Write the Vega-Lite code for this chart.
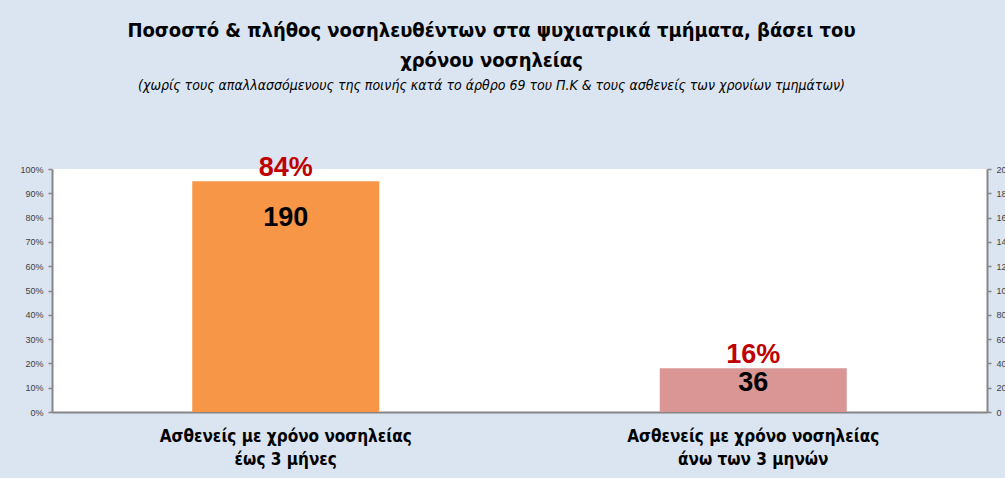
{
  "$schema": "https://vega.github.io/schema/vega-lite/v6.json",
  "autosize": {"type": "none"},
  "width": 935,
  "height": 243,
  "padding": {"left": 52, "top": 169, "right": 18, "bottom": 66},
  "background": "#dbe5f1",
  "title": {
    "text": ["Ποσοστό & πλήθος νοσηλευθέντων στα ψυχιατρικά τμήματα, βάσει του", "χρόνου νοσηλείας"],
    "subtitle": "(χωρίς τους απαλλασσόμενους της ποινής κατά το άρθρο 69 του Π.Κ & τους ασθενείς των χρονίων τμημάτων)",
    "anchor": "middle",
    "dx": -28,
    "offset": 61,
    "font": "DejaVu Sans Condensed",
    "fontSize": 20,
    "fontWeight": "bold",
    "color": "#000000",
    "lineHeight": 30,
    "subtitleFont": "DejaVu Sans Condensed",
    "subtitleFontSize": 14,
    "subtitleFontStyle": "italic",
    "subtitleColor": "#000000",
    "subtitlePadding": 8
  },
  "data": {
    "values": [
      {"category": "Ασθενείς με χρόνο νοσηλείας έως 3 μήνες", "count": 190, "pct": 0.84},
      {"category": "Ασθενείς με χρόνο νοσηλείας άνω των 3 μηνών", "count": 36, "pct": 0.16}
    ]
  },
  "config": {
    "view": {"fill": "#ffffff", "stroke": null},
    "axis": {
      "domainColor": "#868686",
      "domainWidth": 2,
      "tickColor": "#868686",
      "tickWidth": 1.5,
      "labelColor": "#404040",
      "labelFont": "Liberation Sans",
      "grid": false,
      "title": null
    }
  },
  "encoding": {
    "x": {
      "field": "category",
      "type": "nominal",
      "sort": null,
      "scale": {"paddingInner": 0.6, "paddingOuter": 0.3},
      "axis": {
        "ticks": false,
        "labelAngle": 0,
        "labelFont": "DejaVu Sans Condensed",
        "labelFontSize": 17,
        "labelFontWeight": "bold",
        "labelColor": "#000000",
        "labelLineHeight": 23,
        "labelPadding": 16,
        "labelLimit": 0,
        "labelExpr": "[slice(datum.value, 0, 27), slice(datum.value, 28)]"
      }
    }
  },
  "layer": [
    {
      "mark": {"type": "bar"},
      "encoding": {
        "y": {
          "field": "count",
          "type": "quantitative",
          "scale": {"domain": [0, 200]},
          "axis": {
            "orient": "right",
            "values": [0, 20, 40, 60, 80, 100, 120, 140, 160, 180, 200],
            "tickSize": 4,
            "labelFontSize": 9,
            "labelPadding": 5
          }
        },
        "color": {
          "field": "category",
          "type": "nominal",
          "scale": {
            "domain": ["Ασθενείς με χρόνο νοσηλείας έως 3 μήνες", "Ασθενείς με χρόνο νοσηλείας άνω των 3 μηνών"],
            "range": ["#f79646", "#d99694"]
          },
          "legend": null
        }
      }
    },
    {
      "mark": {"type": "text", "baseline": "alphabetic", "dy": -5, "font": "Liberation Sans", "fontSize": 27, "fontWeight": "bold", "color": "#c00000"},
      "encoding": {
        "y": {"field": "count", "type": "quantitative", "scale": {"domain": [0, 200]}, "axis": null},
        "text": {"field": "pct", "type": "quantitative", "format": ".0%"}
      }
    },
    {
      "mark": {"type": "text", "baseline": "top", "dy": -3, "font": "Liberation Sans", "fontSize": 27, "fontWeight": "bold", "color": "#000000"},
      "encoding": {
        "y": {
          "field": "pct",
          "type": "quantitative",
          "scale": {"domain": [0, 1]},
          "axis": {
            "orient": "left",
            "format": ".0%",
            "values": [0, 0.1, 0.2, 0.3, 0.4, 0.5, 0.6, 0.7, 0.8, 0.9, 1],
            "tickSize": 4,
            "labelFontSize": 9,
            "labelPadding": 5
          }
        },
        "text": {"field": "count", "type": "quantitative"}
      }
    }
  ],
  "resolve": {"scale": {"y": "independent", "color": "independent"}}
}
